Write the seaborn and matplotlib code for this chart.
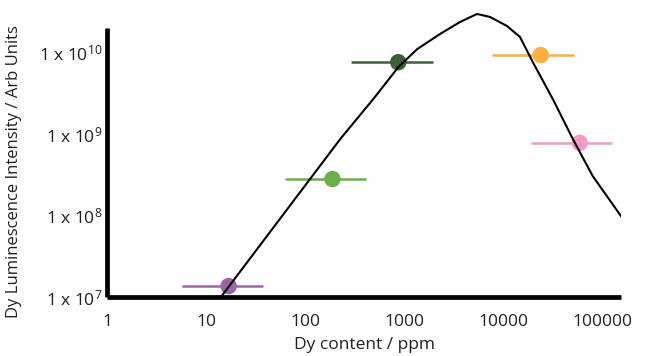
import matplotlib
matplotlib.use("Agg")
import matplotlib.pyplot as plt
import numpy as np
import pandas as pd
import seaborn as sns
from matplotlib.ticker import FixedLocator, FixedFormatter

# model curve
CURVE_PPM = [14.4, 227, 489, 873, 1355, 2310, 3675, 5450, 7360, 10900, 14800, 19950, 31700, 50500, 80200, 157000]
CURVE_INT = [1.03e7, 8.7e8, 2.69e9, 6.6e9, 1.10e10, 1.69e10, 2.37e10, 2.97e10, 2.73e10, 2.12e10,
             1.55e10, 7.6e9, 2.69e9, 8.7e8, 3.05e8, 9.6e7]

# measured samples with concentration ranges
SAMPLE_PPM = [16.9, 189, 873, 24000, 59300]
SAMPLE_LO = [5.7, 62, 293, 7710, 19000]
SAMPLE_HI = [37.2, 415, 1963, 51600, 125000]
SAMPLE_INT = [1.36e7, 2.8e8, 7.6e9, 9.3e9, 7.8e8]
SAMPLE_COLORS = ["#9b63a8", "#6cb04a", "#3f5f3c", "#fbb040", "#f39bc3"]

X_TICKS = [1, 10, 100, 1000, 10000, 100000]
X_TICK_LABELS = ["1", "10", "100", "1000", "10000", "100000"]
Y_TICKS = [1e7, 1e8, 1e9, 1e10]
Y_TICK_LABELS = ["1 x 10$^{7}$", "1 x 10$^{8}$", "1 x 10$^{9}$", "1 x 10$^{10}$"]

W, H = 646, 356


def main() -> None:
    sns.set_theme(style="white")
    plt.rcParams["font.family"] = ["Open Sans", "DejaVu Sans"]
    plt.rcParams["mathtext.fontset"] = "custom"
    plt.rcParams["mathtext.rm"] = "Open Sans"
    plt.rcParams["mathtext.it"] = "Open Sans"

    fig = plt.figure(figsize=(W / 100, H / 100), dpi=100)
    # axes box in pixels: left spine x=107, bottom spine y=297, right end x=621
    ax = fig.add_axes([107 / W, (H - 297) / H, (621 - 107) / W, 293.4 / H])

    ax.set_xscale("log")
    ax.set_yscale("log")
    ax.set_xlim(1, 10 ** 5.19)
    ax.set_ylim(1e7, 10 ** 10.6)

    curve = pd.DataFrame({"ppm": CURVE_PPM, "intensity": CURVE_INT})
    samples = pd.DataFrame({"ppm": SAMPLE_PPM, "lo": SAMPLE_LO, "hi": SAMPLE_HI,
                            "intensity": SAMPLE_INT, "color": SAMPLE_COLORS})

    for _, row in samples.iterrows():
        ax.errorbar(row["ppm"], row["intensity"],
                    xerr=[[row["ppm"] - row["lo"]], [row["hi"] - row["ppm"]]],
                    fmt="none", ecolor=row["color"], elinewidth=1.8, capsize=0, zorder=2)
    sns.scatterplot(data=samples, x="ppm", y="intensity", hue="color", palette=SAMPLE_COLORS,
                    hue_order=SAMPLE_COLORS, s=140, edgecolor="none", legend=False, ax=ax, zorder=3)
    sns.lineplot(data=curve, x="ppm", y="intensity", sort=False, color="black", linewidth=1.5,
                 ax=ax, zorder=4)

    for side in ["top", "right"]:
        ax.spines[side].set_visible(False)
    for side in ["left", "bottom"]:
        ax.spines[side].set_linewidth(3.4)
        ax.spines[side].set_color("black")
        ax.spines[side].set_capstyle("butt")
    ax.spines["left"].set_bounds(1e7, 10 ** 10.30)

    ax.xaxis.set_major_locator(FixedLocator(X_TICKS))
    ax.xaxis.set_major_formatter(FixedFormatter(X_TICK_LABELS))
    ax.xaxis.set_minor_locator(FixedLocator([]))
    ax.yaxis.set_major_locator(FixedLocator(Y_TICKS))
    ax.yaxis.set_major_formatter(FixedFormatter(Y_TICK_LABELS))
    ax.yaxis.set_minor_locator(FixedLocator([]))
    ax.tick_params(axis="both", length=0, labelsize=12.5, colors="#231f20")
    ax.tick_params(axis="x", pad=12)
    ax.tick_params(axis="y", pad=3)

    ax.set_xlabel("Dy content / ppm", fontsize=12.5, color="#231f20", labelpad=5)
    ax.set_ylabel("Dy Luminescence Intensity / Arb Units", fontsize=12, color="#231f20")
    # centre the y label at about y=172 px, x=22 px
    ax.yaxis.set_label_coords(-(107 - 22) / 514, (297 - 172) / 293.4)
    ax.grid(False)

    fig.savefig("out.png", dpi=100)


if __name__ == "__main__":
    main()
